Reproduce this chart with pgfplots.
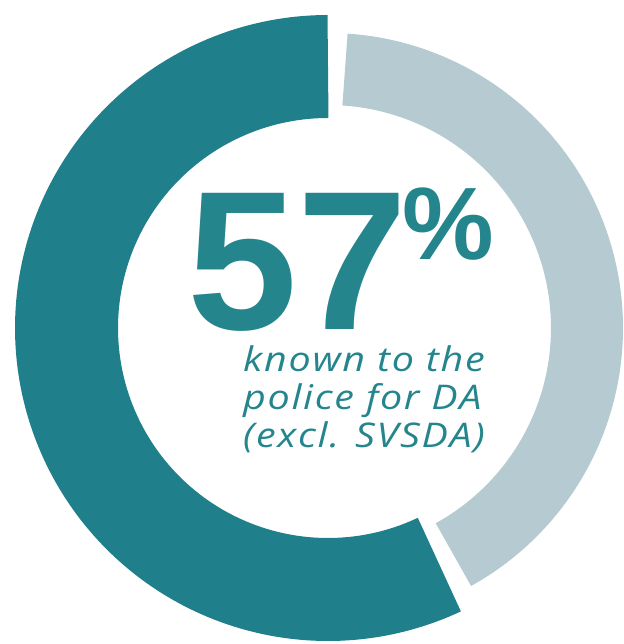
\documentclass[border=0pt]{standalone}
\usepackage{pgfplots}
\pgfplotsset{compat=1.18}
\usepackage{pgfplotstable}
\usepackage{fontspec}
\setmainfont{Liberation Sans}
\newfontfamily\bigfont{Liberation Sans}
\newfontfamily\labfont[LetterSpace=5,FakeStretch=1.16]{Open Sans}
\definecolor{ringteal}{HTML}{1F7F8A}
\definecolor{txtteal}{HTML}{24858D}
\definecolor{ringgrey}{HTML}{B5CAD1}

\pgfplotstableread{
part value
known 57
other 43
}\shares
\pgfplotstablegetelem{0}{value}\of\shares \let\valA\pgfplotsretval
\pgfplotstablegetelem{1}{value}\of\shares \let\valB\pgfplotsretval

\begin{document}
\begin{tikzpicture}
\begin{axis}[x=1bp,y=1bp,xmin=0,xmax=624,ymin=0,ymax=644,hide axis,clip=false]
\addplot[draw=none] coordinates {(0,0) (624,644)};
% known to the police: starts at 12 o'clock, sweeps counterclockwise
\addplot[ringteal, line width=103bp, line cap=butt, domain=90:{90+3.6*\valA}, samples=240, variable=\t]
  ({328+261.5*cos(\t)},{316+261.5*sin(\t)});
% remainder, thinner ring with a white gap on both sides
\addplot[ringgrey, line width=72bp, line cap=butt, domain={90+3.6*\valA+3.76}:{90+3.6*\valA+3.6*\valB-3.76}, samples=200, variable=\t]
  ({328+259*cos(\t)},{316+259*sin(\t)});
\node[anchor=base west, inner sep=0, text=txtteal, font=\bigfont\bfseries\fontsize{198bp}{198bp}\selectfont] at (axis cs:187,314) {57};
\node[anchor=base west, inner sep=0, text=txtteal, font=\bigfont\bfseries\fontsize{103bp}{103bp}\selectfont] at (axis cs:402,384) {\%};
\node[anchor=base west, inner sep=0, text=txtteal, font=\labfont\itshape\fontsize{34bp}{38bp}\selectfont] at (axis cs:243,272) {known to the};
\node[anchor=base west, inner sep=0, text=txtteal, font=\labfont\itshape\fontsize{34bp}{38bp}\selectfont] at (axis cs:243,234) {police for DA};
\node[anchor=base west, inner sep=0, text=txtteal, font=\labfont\itshape\fontsize{34bp}{38bp}\selectfont] at (axis cs:243,196) {(excl. SVSDA)};
\end{axis}
\end{tikzpicture}
\end{document}
